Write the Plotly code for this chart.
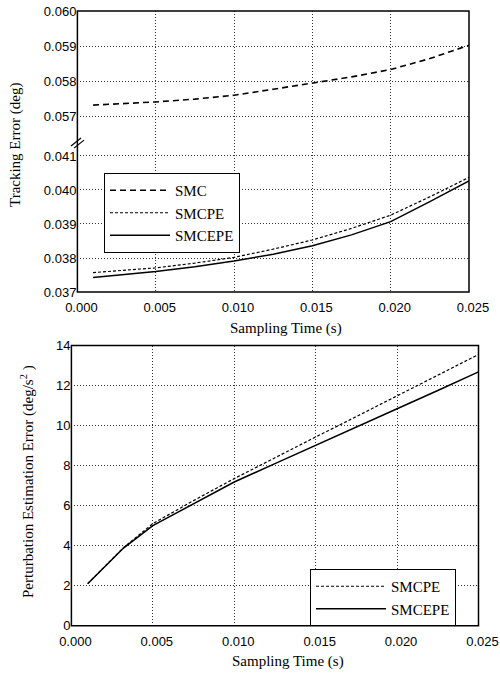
import plotly.graph_objects as go

# ---------------- data ----------------
time_top = [0.001, 0.005, 0.0075, 0.010, 0.0125, 0.015, 0.0175, 0.020, 0.0225, 0.025]
smc_top = [0.05733, 0.05742, 0.05750, 0.05761, 0.05778, 0.05795, 0.05813, 0.05834, 0.05865, 0.05903]
smcpe_top = [0.03757, 0.03771, 0.03785, 0.03802, 0.03826, 0.03853, 0.03887, 0.03926, 0.03980, 0.04037]
smcepe_top = [0.03743, 0.03760, 0.03774, 0.03791, 0.03811, 0.03836, 0.03868, 0.03907, 0.03966, 0.04027]

time_bottom = [0.001, 0.0032, 0.005, 0.0075, 0.010, 0.0125, 0.015, 0.0175, 0.020, 0.0225, 0.025]
smcpe_bottom = [2.10, 3.90, 5.10, 6.25, 7.35, 8.40, 9.43, 10.45, 11.49, 12.50, 13.55]
smcepe_bottom = [2.10, 3.88, 5.00, 6.10, 7.18, 8.10, 9.00, 9.92, 10.84, 11.75, 12.68]

x_ticks = [0.000, 0.005, 0.010, 0.015, 0.020, 0.025]
x_tick_labels = ["0.000", "0.005", "0.010", "0.015", "0.020", "0.025"]
y_upper_ticks = [0.057, 0.058, 0.059, 0.060]
y_upper_labels = ["0.057", "0.058", "0.059", "0.060"]
y_lower_ticks = [0.037, 0.038, 0.039, 0.040, 0.041]
y_lower_labels = ["0.037", "0.038", "0.039", "0.040", "0.041"]
y_bottom_ticks = [0, 2, 4, 6, 8, 10, 12, 14]
y_bottom_labels = ["0", "2", "4", "6", "8", "10", "12", "14"]

# ---------------- layout helpers ----------------
W, H = 500, 673
def px(x):
    return x / W
def py(y):
    return 1 - y / H

TICKFONT = dict(family="Liberation Sans, Arial, sans-serif", size=13, color="black")
SERIF = "Liberation Serif, Times New Roman, serif"
GRID = dict(showgrid=True, gridcolor="#333333", gridwidth=1, griddash="1px,2px",
            zeroline=False, showline=False, ticks="", tickfont=TICKFONT,
            automargin=False)

fig = go.Figure()

fig.add_trace(go.Scatter(x=time_top, y=smc_top, name="SMC", mode="lines",
                         line=dict(color="black", width=1.6, dash="6px,4px"),
                         xaxis="x2", yaxis="y2", legend="legend"))
fig.add_trace(go.Scatter(x=time_top, y=smcpe_top, name="SMCPE", mode="lines",
                         line=dict(color="black", width=1.2, dash="3px,2px"),
                         xaxis="x", yaxis="y", legend="legend"))
fig.add_trace(go.Scatter(x=time_top, y=smcepe_top, name="SMCEPE", mode="lines",
                         line=dict(color="black", width=1.5),
                         xaxis="x", yaxis="y", legend="legend"))

fig.add_trace(go.Scatter(x=time_bottom, y=smcpe_bottom, name="SMCPE", mode="lines",
                         line=dict(color="black", width=1.2, dash="3px,2px"),
                         xaxis="x3", yaxis="y3", legend="legend2"))
fig.add_trace(go.Scatter(x=time_bottom, y=smcepe_bottom, name="SMCEPE", mode="lines",
                         line=dict(color="black", width=1.5),
                         xaxis="x3", yaxis="y3", legend="legend2"))

top_l, top_r, top_t, top_b, brk = 77.4, 469.0, 11.0, 292.0, 140.0
bot_l, bot_r, bot_t, bot_b = 71.4, 478.5, 345.5, 625.7

fig.update_layout(
    template="none",
    width=W, height=H, autosize=False,
    margin=dict(l=0, r=0, t=0, b=0, pad=0, autoexpand=False),
    paper_bgcolor="white", plot_bgcolor="white",
    xaxis=dict(domain=[px(top_l), px(top_r)], range=[0, 0.025], anchor="y",
               tickvals=x_ticks, ticktext=x_tick_labels, ticklabelstandoff=6,
               ticklabelshift=4, **GRID),
    xaxis2=dict(domain=[px(top_l), px(top_r)], range=[0, 0.025], anchor="y2",
                matches="x", tickvals=x_ticks, showticklabels=False, **GRID),
    yaxis=dict(domain=[py(top_b), py(brk)], range=[0.037, 0.04147], anchor="x",
               tickvals=y_lower_ticks, ticktext=y_lower_labels, **GRID),
    yaxis2=dict(domain=[py(brk), py(top_t)], range=[0.05634, 0.060], anchor="x2",
                tickvals=y_upper_ticks, ticktext=y_upper_labels, **GRID),
    xaxis3=dict(domain=[px(bot_l), px(bot_r)], range=[0, 0.025], anchor="y3",
                tickvals=x_ticks, ticktext=x_tick_labels, ticklabelstandoff=6,
                ticklabelshift=4, **GRID),
    yaxis3=dict(domain=[py(bot_b), py(bot_t)], range=[0, 14], anchor="x3",
                tickvals=y_bottom_ticks, ticktext=y_bottom_labels, **GRID),
    legend=dict(x=px(104), y=py(173), xanchor="left", yanchor="top",
                bgcolor="white", bordercolor="black", borderwidth=1,
                font=dict(family=SERIF, size=15, color="black"),
                itemwidth=60, tracegroupgap=0),
    legend2=dict(x=px(310), y=py(569), xanchor="left", yanchor="top",
                 bgcolor="white", bordercolor="black", borderwidth=1,
                 font=dict(family=SERIF, size=15, color="black"),
                 itemwidth=70, tracegroupgap=0),
    showlegend=True,
)

# frames
for (l, r, t, b) in [(top_l, top_r, top_t, top_b), (bot_l, bot_r, bot_t, bot_b)]:
    fig.add_shape(type="rect", xref="paper", yref="paper",
                  x0=px(l), x1=px(r), y0=py(b), y1=py(t),
                  line=dict(color="black", width=1.5), fillcolor="rgba(0,0,0,0)",
                  layer="above")

# axis break marks
for dx in (0, 3):
    fig.add_shape(type="line", xref="paper", yref="paper",
                  x0=px(71 + dx), y0=py(146 + dx * 0.7), x1=px(81 + dx), y1=py(138 + dx * 0.7),
                  line=dict(color="black", width=1.2), layer="above")

# axis titles
ann = [
    dict(text="Tracking Error (deg)", x=px(15), y=py(145), textangle=-90),
    dict(text="Perturbation Estimation Error (deg/s<sup>2</sup> )", x=px(27), y=py(482), textangle=-90),
    dict(text="Sampling Time (s)", x=px(286), y=py(328), textangle=0),
    dict(text="Sampling Time (s)", x=px(288), y=py(661), textangle=0),
]
for a in ann:
    fig.add_annotation(xref="paper", yref="paper", showarrow=False,
                       xanchor="center", yanchor="middle",
                       font=dict(family=SERIF, size=15, color="black"), **a)

fig.write_html("out.html",
               config={"displayModeBar": False},
               post_script="document.body.style.margin='0';document.body.style.overflow='hidden';")
